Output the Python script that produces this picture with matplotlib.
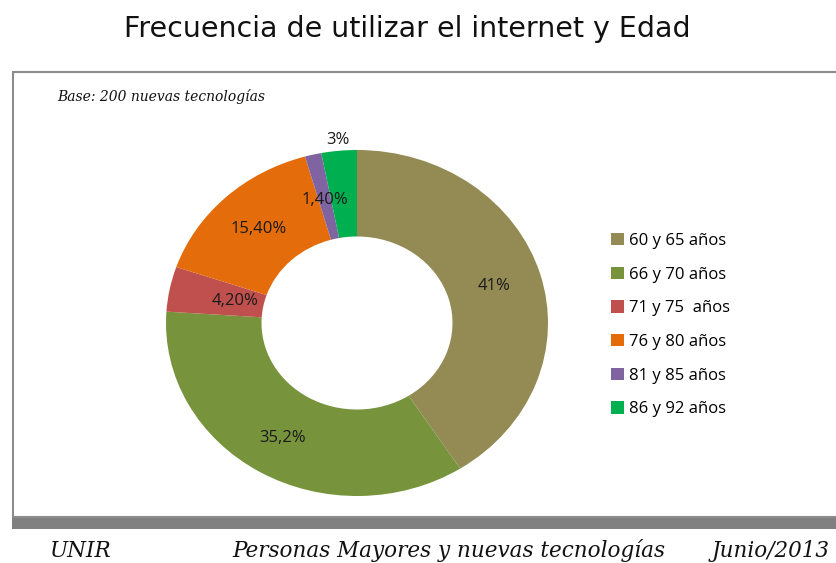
import numpy as np
import matplotlib.pyplot as plt
from matplotlib.patches import Rectangle

# data
categories = ['60 y 65 años', '66 y 70 años', '71 y 75  años',
              '76 y 80 años', '81 y 85 años', '86 y 92 años']
values = [41.0, 35.2, 4.2, 15.4, 1.4, 3.0]
value_labels = ['41%', '35,2%', '4,20%', '15,40%', '1,40%', '3%']
colors = ['#948A54', '#77933C', '#C0504D', '#E46C0A', '#8064A2', '#00B050']
label_radius = [0.75, 0.77, 0.65, 0.75, 0.73, 1.06]

plt.rcParams['font.family'] = ['Open Sans', 'DejaVu Sans']

fig = plt.figure(figsize=(8.36, 5.63), dpi=100)
W, H = 836, 563

# outer frame and shadow (pixel -> figure fraction)
fig.patches.append(Rectangle((12 / W, (H - 529) / H), (W - 12) / W, 12 / H,
                             transform=fig.transFigure, facecolor='#808080',
                             edgecolor='none', zorder=0))
fig.patches.append(Rectangle((13 / W, (H - 517) / H), (W - 10) / W, 445 / H,
                             transform=fig.transFigure, facecolor='white',
                             edgecolor='#8c8c8c', linewidth=1.5, zorder=1))

fig.text(407 / W, 1 - 29 / H, 'Frecuencia de utilizar el internet y Edad',
         ha='center', va='center', fontsize=20.5, family='DejaVu Sans',
         color='#111111')
fig.text(57 / W, 1 - 97 / H, 'Base: 200 nuevas tecnologías', ha='left',
         va='center', fontsize=10, family='DejaVu Serif', style='italic',
         color='#111111')

foot = dict(va='center', fontsize=15.5, family='DejaVu Serif', style='italic',
            color='#111111')
fig.text(50 / W, 1 - 551 / H, 'UNIR', ha='left', **foot)
fig.text(232 / W, 1 - 551 / H, 'Personas Mayores y nuevas tecnologías',
         ha='left', **foot)
fig.text(830 / W, 1 - 551 / H, 'Junio/2013', ha='right', **foot)

# donut: center (357, 323), radii 191 x 173 px
cx, cy, rx, ry = 357, 323, 191, 173
ax = fig.add_axes([(cx - rx) / W, (H - cy - ry) / H, 2 * rx / W, 2 * ry / H])
ax.set_zorder(2)
wedges, _ = ax.pie(values, colors=colors, startangle=90, counterclock=False,
                   radius=1.0, wedgeprops=dict(width=0.5, edgecolor='none'))
ax.set_aspect('auto')
ax.set_xlim(-1, 1)
ax.set_ylim(-1, 1)

for w, lab, r in zip(wedges, value_labels, label_radius):
    ang = np.deg2rad((w.theta1 + w.theta2) / 2)
    ax.text(r * np.cos(ang), r * np.sin(ang), lab, ha='center', va='center',
            fontsize=12, color='#1a1a1a')

leg = fig.legend(wedges, categories, loc='upper left',
                 bbox_to_anchor=(596 / W, 1 - 218 / H), frameon=False,
                 fontsize=12, handlelength=0.75, handleheight=0.75,
                 handletextpad=0.35, labelspacing=1.06)
leg.set_zorder(3)

fig.savefig('out.png', dpi=100)
